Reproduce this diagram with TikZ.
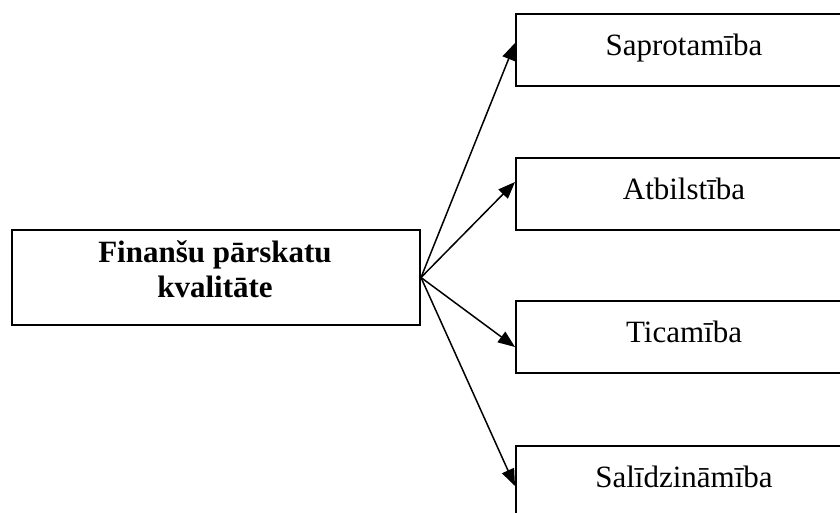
\documentclass[tikz,border=0pt]{standalone}
\usepackage{fontspec}
\setmainfont{Liberation Serif}
\usetikzlibrary{arrows.meta,calc}
\begin{document}
\begin{tikzpicture}[x=1pt,y=-1pt,
  box/.style={draw=black,line width=2pt,rectangle,inner sep=0pt,
    minimum width=336pt,minimum height=72pt,anchor=north west,
    font=\fontsize{31}{35}\selectfont,text height=20pt,text depth=10pt},
  srcbox/.style={draw=black,line width=2pt,rectangle,inner sep=0pt,
    minimum width=408pt,minimum height=95pt,anchor=north west},
  conn/.style={line width=1.5pt,-{Triangle[length=17pt,width=13pt]}}]
\useasboundingbox (0,0) rectangle (840,512);
\fill[white] (0,0) rectangle (840,512);
\clip (0,0) rectangle (840,512);
\node[srcbox] (src) at (11,229) {};
\node[anchor=base,align=center,font=\fontsize{31}{35}\selectfont\bfseries] (srct) at (215,297) {Finanšu pārskatu\\kvalitāte};
\node[box] (t1) at (515,13) {Saprotamība};
\node[box] (t2) at (515,157) {Atbilstība};
\node[box] (t3) at (515,300) {Ticamība};
\node[box] (t4) at (515,445) {Salīdzināmība};
\draw[conn] (src.east) -- ($(t1.north west)+(0,30)$);
\draw[conn] (src.east) -- ($(t2.north west)+(0,25)$);
\draw[conn] (src.east) -- ($(t3.north west)+(0,47)$);
\draw[conn] (src.east) -- ($(t4.north west)+(0,41)$);
\end{tikzpicture}
\end{document}
